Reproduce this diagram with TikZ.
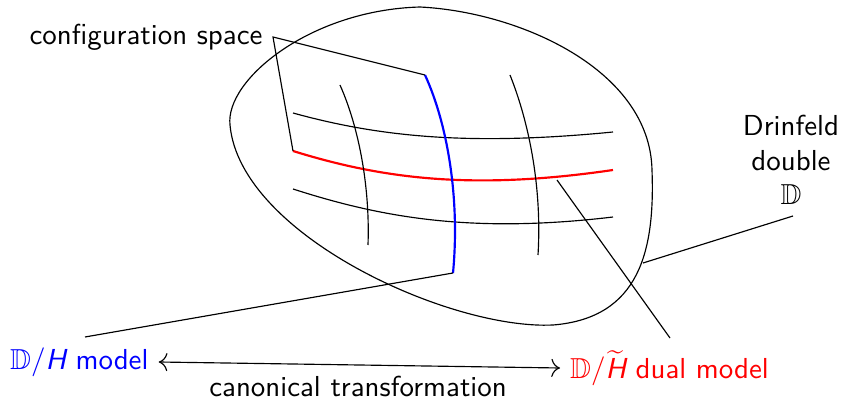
\documentclass[tikz,border=0pt]{standalone}
\usepackage{amssymb}
\usetikzlibrary{arrows.meta}
\begin{document}
\begin{tikzpicture}[x=0.346pt,y=-0.346pt,font=\sffamily,
  thinline/.style={black,line width=0.4pt},
  gridline/.style={black,line width=0.4pt}]
\useasboundingbox (0,0) rectangle (842,398);
% blob
\draw[thinline] (420,7) .. controls (520,12) and (650,70) .. (652,170)
  .. controls (655,250) and (640,318) .. (553,325)
  .. controls (450,330) and (240,235) .. (230,125)
  .. controls (225,80) and (310,10) .. cycle;
% horizontal grid lines
\draw[gridline] (293,113) .. controls (380,137) and (470,146) .. (613,132);
\draw[gridline] (293,189) .. controls (380,217) and (470,234) .. (613,217);
\draw[red,line width=0.75pt] (293,151) .. controls (380,178) and (470,191) .. (613,170);
% vertical grid lines
\draw[gridline] (340,85) .. controls (360,130) and (370,190) .. (368,245);
\draw[gridline] (510,75) .. controls (530,125) and (542,190) .. (538,255);
\draw[blue,line width=0.75pt] (425,75) .. controls (448,125) and (460,200) .. (453,273);
% named points
\coordinate (cs) at (273,37);
\coordinate (bt) at (425,75);
\coordinate (rs) at (293,151);
\coordinate (bb) at (453,273);
\coordinate (rp) at (557,180);
\coordinate (mtail) at (85,337);
\coordinate (dtail) at (670,338);
\coordinate (blobpt) at (643,263);
\coordinate (drtail) at (793,216);
% labels
\node (conf) at (146,37) {configuration space};
\node[align=center] (drin) at (791,160) {Drinfeld\\double\\$\mathbb{D}$};
\node[blue,anchor=west] (model) at (0,362) {$\mathbb{D}/\textit{H}$ model};
\node[red,anchor=west] (dual) at (560,368) {$\mathbb{D}/\widetilde{\textit{H}}$ dual model};
\node (canon) at (358,386) {canonical transformation};
% connectors
\draw[thinline] (bt) -- (cs) -- (rs);
\draw[thinline] (mtail) -- (bb);
\draw[thinline] (rp) -- (dtail);
\draw[thinline] (blobpt) -- (drtail);
\draw[thinline,{To[length=3pt]}-{To[length=3pt]}] (model.east) -- (dual.west);
\end{tikzpicture}
\end{document}
